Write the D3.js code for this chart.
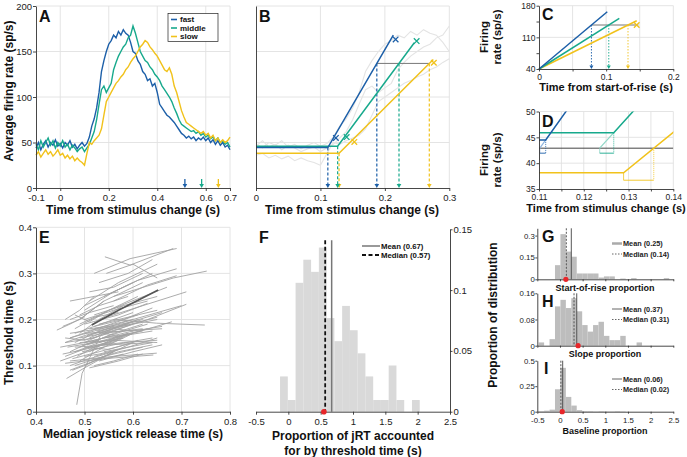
<!DOCTYPE html>
<html><head><meta charset="utf-8">
<script src="https://cdn.jsdelivr.net/npm/d3@7"></script>
<style>body{margin:0;background:#fff} svg{display:block}</style>
</head><body><svg id="c" width="687" height="457"></svg>
<script>
// ---------------- DATA ----------------
const conditions = ["fast", "middle", "slow"];
const condColors = ["#1c5fa8", "#17a98c", "#f1c21b"];
const condLight = ["#8fb6e0", "#8fd6c6", "#f6de86"];

// Panel A: average firing rate (sp/s), sampled every 0.01 s from -0.1 s
const rateT0 = -0.1, rateDt = 0.01;
const rateFast = [44,50,42,48,52,45,50,47,53,46,49,44,50,47,52,45,48,43,47,50,46,49,56,68,76,88,105,128,140,150,158,162,168,165,172,168,174,170,168,160,150,148,140,136,128,125,118,120,112,115,105,92,88,84,80,78,75,72,68,64,60,58,55,57,54,56,52,55,53,56,52,55,50,53,48,52,47,50,45,47,42];
const rateMiddle = [48,42,52,45,50,55,47,52,44,50,46,52,45,48,42,47,44,40,43,45,40,44,48,55,62,75,92,108,112,105,110,115,130,138,145,150,155,158,165,168,178,170,160,150,145,140,138,133,130,125,122,118,112,108,104,100,95,88,82,75,70,68,66,64,62,63,60,62,58,60,56,58,54,56,52,55,50,52,48,50,45];
const rateSlow = [36,40,34,38,42,37,40,35,38,42,36,38,33,36,32,35,30,33,30,28,25,38,50,48,52,55,58,65,80,95,100,105,110,115,118,122,125,130,133,138,142,145,150,155,158,162,160,155,152,148,145,140,135,130,128,132,125,112,105,95,85,78,72,70,68,66,64,62,60,62,58,60,55,58,52,55,50,53,50,52,56];
const medianRT = [0.514, 0.583, 0.652];

// Panel B / D: piecewise-linear fits
const fitBase = [44.5, 45.9, 38.15];
const fitKnee = [0.1115, 0.1267, 0.1289];
const fitEndT = [0.2131, 0.2457, 0.2752];
const fitEndRate = [168, 159.6, 141.3];
const fitThreshold = 136.9;
const markLowT = [0.124, 0.1407, 0.1526], markLowRate = [55, 56, 50.6];
const markHighT = [0.2167, 0.2493, 0.276], markHighRate = [163.3, 161.5, 137.6];

// Panel C: fits aligned at start-of-rise
const cEndT = [0.1017, 0.1196, 0.1455];
const cEndRate = [166.7, 152, 146.8];
const cThreshold = 137.3;
const cMarkT = 0.1455, cMarkRate = 137.3;

// Panel D
const dBaselineLevel = 42.9;

// Panel E: per-neuron median RTs (fast, middle, slow) and threshold times
const neuronRT = [
[0.443,0.470,0.500],[0.484,0.495,0.532],[0.463,0.500,0.560],[0.542,0.594,0.683],[0.520,0.594,0.690],
[0.560,0.649,0.748],[0.560,0.683,0.752],[0.540,0.628,0.710],[0.470,0.560,0.649],[0.460,0.540,0.642],
[0.450,0.500,0.560],[0.470,0.520,0.600],[0.480,0.540,0.610],[0.490,0.540,0.620],[0.500,0.560,0.640],
[0.510,0.570,0.650],[0.470,0.510,0.560],[0.455,0.490,0.540],[0.460,0.510,0.580],[0.480,0.530,0.600],
[0.490,0.550,0.630],[0.500,0.560,0.650],[0.510,0.580,0.660],[0.520,0.590,0.650],[0.480,0.540,0.620],
[0.470,0.520,0.580],[0.510,0.570,0.640],[0.490,0.560,0.650],[0.500,0.580,0.660],[0.520,0.600,0.700],
[0.530,0.620,0.710],[0.540,0.610,0.690],[0.510,0.560,0.620],[0.500,0.540,0.600],[0.520,0.580,0.650],
[0.530,0.590,0.650],[0.460,0.500,0.550],[0.470,0.530,0.590],[0.490,0.540,0.600],[0.500,0.550,0.610],
[0.480,0.550,0.640],[0.510,0.560,0.630],[0.520,0.600,0.680],[0.540,0.600,0.660],[0.550,0.600,0.650],
[0.500,0.570,0.630],[0.470,0.520,0.570],[0.460,0.490,0.520],[0.490,0.530,0.580],[0.530,0.580,0.640],
[0.500,0.530,0.570],[0.510,0.550,0.600],[0.480,0.520,0.560],[0.540,0.590,0.640],[0.520,0.560,0.610],
[0.470,0.500,0.530],[0.490,0.520,0.570],[0.550,0.610,0.670],[0.560,0.630,0.690],[0.530,0.590,0.640],
[0.500,0.540,0.580],[0.480,0.510,0.550],[0.530,0.560,0.600],[0.460,0.520,0.600],[0.510,0.550,0.590],
[0.500,0.550,0.600],[0.540,0.580,0.650],[0.545,0.600,0.650],
[0.450,0.490,0.540],[0.455,0.500,0.560],[0.465,0.520,0.580],[0.470,0.510,0.560],[0.475,0.530,0.600],
[0.485,0.520,0.570],[0.490,0.540,0.620],[0.495,0.560,0.640],[0.505,0.540,0.590],[0.505,0.560,0.610],
[0.515,0.560,0.620],[0.525,0.570,0.620],[0.460,0.500,0.550],[0.470,0.540,0.610],[0.480,0.520,0.600],
[0.530,0.600,0.660],[0.520,0.580,0.640],[0.500,0.560,0.630],[0.490,0.530,0.590],[0.475,0.500,0.540],
[0.510,0.570,0.620],[0.540,0.570,0.620]];
const neuronThr = [
[0.177,0.190,0.206],[0.015,0.083,0.163],[0.072,0.095,0.130],[0.336,0.318,0.354],[0.300,0.332,0.354],
[0.200,0.192,0.188],[0.250,0.290,0.305],[0.170,0.199,0.233],[0.110,0.120,0.127],[0.105,0.115,0.123],
[0.140,0.150,0.165],[0.160,0.175,0.200],[0.180,0.215,0.250],[0.200,0.240,0.280],[0.220,0.260,0.300],
[0.240,0.280,0.320],[0.200,0.215,0.230],[0.185,0.200,0.240],[0.120,0.140,0.160],[0.130,0.150,0.170],
[0.140,0.165,0.190],[0.150,0.180,0.205],[0.160,0.190,0.215],[0.120,0.140,0.160],[0.100,0.120,0.140],
[0.090,0.110,0.125],[0.110,0.130,0.145],[0.150,0.155,0.150],[0.170,0.175,0.180],[0.180,0.200,0.230],
[0.200,0.230,0.260],[0.250,0.285,0.310],[0.260,0.270,0.300],[0.230,0.250,0.280],[0.210,0.230,0.250],
[0.190,0.205,0.220],[0.160,0.155,0.170],[0.170,0.180,0.190],[0.110,0.140,0.170],[0.100,0.125,0.155],
[0.140,0.145,0.150],[0.130,0.160,0.180],[0.140,0.170,0.195],[0.160,0.175,0.185],[0.180,0.190,0.200],
[0.190,0.210,0.235],[0.240,0.250,0.260],[0.200,0.220,0.250],[0.170,0.200,0.230],[0.150,0.165,0.175],
[0.120,0.125,0.135],[0.180,0.185,0.195],[0.150,0.170,0.185],[0.130,0.140,0.150],[0.100,0.110,0.125],
[0.130,0.145,0.155],[0.190,0.205,0.215],[0.220,0.245,0.270],[0.240,0.275,0.295],[0.280,0.300,0.330],
[0.150,0.160,0.165],[0.210,0.195,0.220],[0.170,0.180,0.175],[0.150,0.160,0.190],[0.140,0.150,0.170],
[0.140,0.135,0.150],[0.145,0.150,0.155],[0.300,0.320,0.290],
[0.110,0.125,0.140],[0.125,0.135,0.150],[0.140,0.150,0.160],[0.100,0.115,0.130],[0.115,0.130,0.150],
[0.120,0.140,0.155],[0.160,0.170,0.180],[0.130,0.145,0.160],[0.145,0.155,0.170],[0.165,0.180,0.200],
[0.150,0.170,0.190],[0.175,0.185,0.200],[0.150,0.165,0.180],[0.160,0.185,0.210],[0.170,0.185,0.215],
[0.110,0.130,0.145],[0.185,0.200,0.225],[0.200,0.220,0.240],[0.210,0.230,0.250],[0.090,0.100,0.120],
[0.095,0.110,0.125],[0.170,0.165,0.175]];
const meanRT = [0.515, 0.570, 0.652], meanThr = [0.188, 0.220, 0.264];

// Panel F histogram
const fBinStart = -0.128, fBinWidth = 0.12;
const fValues = [0.029,0.0096,0.106,0.125,0.115,0.135,0.077,0.058,0.087,0.067,0.048,0.029,0.0096,0.0096,0.038,0.0096,0,0.0096];
const fMean = 0.67, fMedian = 0.57, fDot = 0.55;

// Panels G, H, I histograms (bins from -0.47, width 0.12)
const ghiBinStart = -0.47, ghiBinWidth = 0.12;
const gValues = [0,0,0,0.097,0.31,0.19,0.155,0.04,0.04,0.04,0.04,0.012,0.02,0.02,0,0.005,0,0.008,0,0,0,0,0,0.008,0];
const hValues = [0.01,0,0.02,0.12,0.14,0.115,0.145,0.105,0.063,0.043,0.063,0.073,0.03,0.017,0.017,0.03,0,0,0.01,0,0,0,0,0,0];
const iValues = [0.005,0.01,0.02,0.22,0.43,0.145,0.06,0.015,0.005,0.005,0.003,0.005,0.003,0.003,0.005,0.003,0,0,0,0,0,0,0,0,0];
const ghiMean = [0.25, 0.37, 0.06], ghiMedian = [0.14, 0.31, 0.02], ghiDot = [0.13, 0.40, 0.05];
const ghiTitles = ["Start-of-rise proportion", "Slope proportion", "Baseline proportion"];
const ghiYTicks = [[0, 0.15, 0.3], [0, 0.08, 0.16], [0, 0.25, 0.5]];

// ---------------- HELPERS ----------------
const FONT = '"Liberation Sans", Arial, Helvetica, sans-serif';
const svg = d3.select("#c");
const fmt = d => String(d);

function txt(g, x, y, s, size, o = {}) {
  const t = g.append("text").attr("x", x).attr("y", y).text(s)
    .attr("font-size", size).attr("font-family", FONT)
    .attr("font-weight", o.bold ? "bold" : "normal")
    .attr("text-anchor", o.anchor || "start").attr("fill", o.fill || "#111");
  if (o.rotate) t.attr("transform", `rotate(-90,${x},${y})`);
  return t;
}
function drawAxis(g, axis, size) {
  g.call(axis);
  g.select(".domain").attr("stroke", "#333").attr("stroke-width", 0.9);
  g.selectAll(".tick line").attr("stroke", "#333").attr("stroke-width", 0.9);
  g.selectAll(".tick text").attr("font-size", size).attr("font-family", FONT).attr("fill", "#222");
}
function grid(g, x, y, xs, ys) {
  xs.forEach(v => g.append("line").attr("x1", x(v)).attr("x2", x(v))
    .attr("y1", y.range()[0]).attr("y2", y.range()[1]).attr("stroke", "#e1e1e1").attr("stroke-width", 0.9));
  ys.forEach(v => g.append("line").attr("y1", y(v)).attr("y2", y(v))
    .attr("x1", x.range()[0]).attr("x2", x.range()[1]).attr("stroke", "#e1e1e1").attr("stroke-width", 0.9));
}
function downArrow(g, x, yTip, color, w = 2.3, h = 4) {
  g.append("path").attr("d", `M${x - w},${yTip - h}L${x + w},${yTip - h}L${x},${yTip}Z`).attr("fill", color);
}
function xMark(g, x, y, color, s = 2.8) {
  g.append("path").attr("d", `M${x - s},${y - s}L${x + s},${y + s}M${x - s},${y + s}L${x + s},${y - s}`)
    .attr("stroke", color).attr("stroke-width", 1.3);
}
function letter(g, x, y, s) { txt(g, x, y, s, 16, { bold: true }); }

// ---------------- PANEL A ----------------
const gA = svg.append("g");
const xA = d3.scaleLinear().domain([-0.1, 0.7]).range([36, 230]);
const yA = d3.scaleLinear().domain([0, 200]).range([188, 6]);
grid(gA, xA, yA, [0, 0.2, 0.4, 0.6, 0.7], [50, 100, 150, 200]);
const lineA = d3.line().x((d, i) => xA(rateT0 + i * rateDt)).y(d => yA(d));
[rateFast, rateMiddle, rateSlow].forEach((arr, k) => {
  gA.append("path").attr("d", lineA(arr)).attr("fill", "none").attr("stroke", condColors[k]).attr("stroke-width", 1.4);
});
medianRT.forEach((v, k) => {
  gA.append("line").attr("x1", xA(v)).attr("x2", xA(v)).attr("y1", yA(0) - 9).attr("y2", yA(0) - 3)
    .attr("stroke", condColors[k]).attr("stroke-width", 1.3);
  downArrow(gA, xA(v), yA(0), condColors[k]);
});
drawAxis(gA.append("g").attr("transform", `translate(0,${yA(0)})`),
  d3.axisBottom(xA).tickValues([-0.1, 0, 0.2, 0.4, 0.6, 0.7]).tickFormat(fmt).tickSize(3).tickPadding(3).tickSizeOuter(0), 9.5);
drawAxis(gA.append("g").attr("transform", `translate(${xA(-0.1)},0)`),
  d3.axisLeft(yA).tickValues([0, 50, 100, 150, 200]).tickFormat(fmt).tickSize(3).tickPadding(1).tickSizeOuter(0), 9.5);
const lg = gA.append("g");
lg.append("rect").attr("x", 168).attr("y", 13.5).attr("width", 50).attr("height", 28).attr("fill", "#fff").attr("stroke", "#222").attr("stroke-width", 0.7);
conditions.forEach((c, k) => {
  const yy = 19.5 + k * 8.5;
  lg.append("line").attr("x1", 171).attr("x2", 177).attr("y1", yy).attr("y2", yy).attr("stroke", condColors[k]).attr("stroke-width", 1.6);
  txt(lg, 180, yy + 2.8, c, 8, { bold: true });
});
letter(gA, 39, 22, "A");
txt(gA, 13, 91, "Average firing rate (sp/s)", 12, { bold: true, anchor: "middle", rotate: true });
txt(gA, 133, 213.5, "Time from stimulus change (s)", 12, { bold: true, anchor: "middle" });

// ---------------- PANEL B ----------------
const gB = svg.append("g");
const xB = d3.scaleLinear().domain([0, 0.3]).range([256, 449.3]);
const yB = d3.scaleLinear().domain([0, 200]).range([188, 6]);
grid(gB, xB, yB, [0.1, 0.2, 0.3], [50, 100, 150, 200]);
const lineB = d3.line().defined((d, i) => rateT0 + i * rateDt >= -1e-9 && rateT0 + i * rateDt <= 0.3 + 1e-9)
  .x((d, i) => xB(rateT0 + i * rateDt)).y(d => yB(d));
[rateFast, rateMiddle, rateSlow].forEach(arr => {
  gB.append("path").attr("d", lineB(arr)).attr("fill", "none").attr("stroke", "#e4e4e4").attr("stroke-width", 1.1);
});
const crossB = conditions.map((c, k) => fitKnee[k] + (fitThreshold - fitBase[k]) * (fitEndT[k] - fitKnee[k]) / (fitEndRate[k] - fitBase[k]));
[2, 1, 0].forEach(k => {
  gB.append("line").attr("x1", xB(fitKnee[k])).attr("x2", xB(fitKnee[k])).attr("y1", yB(fitBase[k])).attr("y2", yB(0) - 3)
    .attr("stroke", condColors[k]).attr("stroke-width", 1.2).attr("stroke-dasharray", "3,2");
  downArrow(gB, xB(fitKnee[k]), yB(0), condColors[k]);
  gB.append("line").attr("x1", xB(crossB[k])).attr("x2", xB(crossB[k])).attr("y1", yB(fitThreshold)).attr("y2", yB(0) - 3)
    .attr("stroke", condColors[k]).attr("stroke-width", 1.2).attr("stroke-dasharray", "3,2");
  downArrow(gB, xB(crossB[k]), yB(0), condColors[k]);
});
gB.append("line").attr("x1", xB(crossB[0])).attr("x2", xB(crossB[2])).attr("y1", yB(fitThreshold)).attr("y2", yB(fitThreshold))
  .attr("stroke", "#777").attr("stroke-width", 1);
[2, 1, 0].forEach(k => {
  const pts = [[0, fitBase[k]], [fitKnee[k], fitBase[k]], [fitEndT[k], fitEndRate[k]]];
  gB.append("path").attr("d", d3.line().x(d => xB(d[0])).y(d => yB(d[1]))(pts))
    .attr("fill", "none").attr("stroke", condColors[k]).attr("stroke-width", 1.5);
  xMark(gB, xB(markLowT[k]), yB(markLowRate[k]), condColors[k]);
  xMark(gB, xB(markHighT[k]), yB(markHighRate[k]), condColors[k]);
});
drawAxis(gB.append("g").attr("transform", `translate(0,${yB(0)})`),
  d3.axisBottom(xB).tickValues([0, 0.1, 0.2, 0.3]).tickFormat(fmt).tickSize(3).tickPadding(3).tickSizeOuter(0), 9.5);
drawAxis(gB.append("g").attr("transform", `translate(${xB(0)},0)`),
  d3.axisLeft(yB).tickValues([]).tickSizeOuter(0), 9.5);
letter(gB, 259, 22, "B");
txt(gB, 352, 213.5, "Time from stimulus change (s)", 12, { bold: true, anchor: "middle" });

// ---------------- PANEL C ----------------
const gC = svg.append("g");
const xC = d3.scaleLinear().domain([0, 0.2]).range([539, 673.3]);
const yC = d3.scaleLinear().domain([40, 180]).range([69, 5.7]);
grid(gC, xC, yC, [0.05, 0.1, 0.15, 0.2], [110, 180]);
const crossC = conditions.map((c, k) => (cThreshold - 40) * cEndT[k] / (cEndRate[k] - 40));
gC.append("line").attr("x1", xC(crossC[0])).attr("x2", xC(0.148)).attr("y1", yC(cThreshold)).attr("y2", yC(cThreshold))
  .attr("stroke", "#777").attr("stroke-width", 1);
conditions.forEach((c, k) => {
  gC.append("line").attr("x1", xC(crossC[k])).attr("x2", xC(crossC[k])).attr("y1", yC(cThreshold)).attr("y2", yC(40) - 3)
    .attr("stroke", condColors[k]).attr("stroke-width", 0.9).attr("stroke-dasharray", "1.5,1.5");
  downArrow(gC, xC(crossC[k]), yC(40), condColors[k], 2, 3.5);
});
[2, 1, 0].forEach(k => {
  gC.append("line").attr("x1", xC(0)).attr("y1", yC(40)).attr("x2", xC(cEndT[k])).attr("y2", yC(cEndRate[k]))
    .attr("stroke", condColors[k]).attr("stroke-width", 1.5);
});
xMark(gC, xC(cMarkT), yC(cMarkRate), condColors[2]);
drawAxis(gC.append("g").attr("transform", `translate(0,${yC(40)})`),
  d3.axisBottom(xC).tickValues([0, 0.05, 0.1, 0.15, 0.2]).tickFormat(d => (d === 0.05 || d === 0.15) ? "" : fmt(d)).tickSize(2.5).tickPadding(2.5).tickSizeOuter(0), 8.5);
drawAxis(gC.append("g").attr("transform", `translate(${xC(0)},0)`),
  d3.axisLeft(yC).tickValues([40, 75, 110, 145, 180]).tickFormat(d => (d === 75 || d === 145) ? "" : fmt(d)).tickSize(2.5).tickPadding(1).tickSizeOuter(0), 8.5);
letter(gC, 542, 20, "C");
txt(gC, 606, 91, "Time from start-of-rise (s)", 11, { bold: true, anchor: "middle" });
txt(gC, 488, 37, "Firing", 11.5, { bold: true, anchor: "middle", rotate: true });
txt(gC, 501, 37, "rate (sp/s)", 11.5, { bold: true, anchor: "middle", rotate: true });

// ---------------- PANEL D ----------------
const gD = svg.append("g");
const xD = d3.scaleLinear().domain([0.11, 0.14]).range([539, 673.3]);
const yD = d3.scaleLinear().domain([35, 50]).range([189, 111.5]);
grid(gD, xD, yD, [0.115, 0.12, 0.125, 0.13, 0.135, 0.14], [40, 45, 50]);
svg.append("defs").append("clipPath").attr("id", "clipD").append("rect")
  .attr("x", 539).attr("y", 111.5).attr("width", 134.3).attr("height", 77.5);
const gDc = gD.append("g").attr("clip-path", "url(#clipD)");
gDc.append("line").attr("x1", xD(0.11)).attr("x2", xD(0.14)).attr("y1", yD(dBaselineLevel)).attr("y2", yD(dBaselineLevel))
  .attr("stroke", "#444").attr("stroke-width", 1);
const slopeD = conditions.map((c, k) => (fitEndRate[k] - fitBase[k]) / (fitEndT[k] - fitKnee[k]));
[0, 1].forEach(k => {
  const t0 = fitKnee[k] - (fitBase[k] - dBaselineLevel) / slopeD[k];
  const yb = yD(dBaselineLevel) + 5;
  gDc.append("line").attr("x1", xD(t0)).attr("y1", yD(dBaselineLevel)).attr("x2", xD(fitKnee[k])).attr("y2", yD(fitBase[k]))
    .attr("stroke", condLight[k]).attr("stroke-width", 1.2);
  gDc.append("line").attr("x1", xD(t0)).attr("x2", xD(t0)).attr("y1", yD(dBaselineLevel)).attr("y2", yb)
    .attr("stroke", condLight[k]).attr("stroke-width", 0.8);
  gDc.append("line").attr("x1", xD(fitKnee[k])).attr("x2", xD(fitKnee[k])).attr("y1", yD(fitBase[k])).attr("y2", yb)
    .attr("stroke", condColors[k]).attr("stroke-width", 0.8).attr("stroke-dasharray", "1,1");
  gDc.append("line").attr("x1", xD(t0)).attr("x2", xD(fitKnee[k])).attr("y1", yb).attr("y2", yb)
    .attr("stroke", condColors[k]).attr("stroke-width", 0.9);
});
{
  const k = 2;
  const t1 = fitKnee[k] + (dBaselineLevel - fitBase[k]) / slopeD[k];
  const yb = yD(36.7);
  gDc.append("line").attr("x1", xD(t1)).attr("x2", xD(t1)).attr("y1", yD(dBaselineLevel)).attr("y2", yb)
    .attr("stroke", condColors[k]).attr("stroke-width", 0.8).attr("stroke-dasharray", "1,1");
  gDc.append("line").attr("x1", xD(fitKnee[k])).attr("x2", xD(fitKnee[k])).attr("y1", yD(fitBase[k])).attr("y2", yb)
    .attr("stroke", condColors[k]).attr("stroke-width", 0.8);
  gDc.append("line").attr("x1", xD(fitKnee[k])).attr("x2", xD(t1)).attr("y1", yb).attr("y2", yb)
    .attr("stroke", condColors[k]).attr("stroke-width", 0.9);
}
[2, 1, 0].forEach(k => {
  const pts = [[0.11, fitBase[k]], [fitKnee[k], fitBase[k]], [fitEndT[k], fitEndRate[k]]];
  gDc.append("path").attr("d", d3.line().x(d => xD(d[0])).y(d => yD(d[1]))(pts))
    .attr("fill", "none").attr("stroke", condColors[k]).attr("stroke-width", 1.5);
});
drawAxis(gD.append("g").attr("transform", `translate(0,${yD(35)})`),
  d3.axisBottom(xD).tickValues([0.11, 0.115, 0.12, 0.125, 0.13, 0.135, 0.14]).tickFormat(d => [0.11, 0.12, 0.13, 0.14].includes(d) ? fmt(d) : "").tickSize(2.5).tickPadding(2.5).tickSizeOuter(0), 8.5);
drawAxis(gD.append("g").attr("transform", `translate(${xD(0.11)},0)`),
  d3.axisLeft(yD).tickValues([35, 40, 45, 50]).tickFormat(fmt).tickSize(2.5).tickPadding(1).tickSizeOuter(0), 8.5);
letter(gD, 542, 127, "D");
txt(gD, 606, 211.5, "Time from stimulus change (s)", 11, { bold: true, anchor: "middle" });
txt(gD, 488, 160, "Firing", 11.5, { bold: true, anchor: "middle", rotate: true });
txt(gD, 501, 160, "rate (sp/s)", 11.5, { bold: true, anchor: "middle", rotate: true });

// ---------------- PANEL E ----------------
const gE = svg.append("g");
const xE = d3.scaleLinear().domain([0.4, 0.8]).range([36, 230]);
const yE = d3.scaleLinear().domain([0, 0.4]).range([411.7, 227.3]);
grid(gE, xE, yE, [0.5, 0.6, 0.7, 0.8], [0.1, 0.2, 0.3, 0.4]);
const lineE = d3.line().x(d => xE(d[0])).y(d => yE(d[1]));
neuronRT.forEach((rt, i) => {
  gE.append("path").attr("d", lineE(rt.map((r, j) => [r, neuronThr[i][j]])))
    .attr("fill", "none").attr("stroke", "#a3a3a3").attr("stroke-width", 0.9);
});
gE.append("path").attr("d", lineE(meanRT.map((r, j) => [r, meanThr[j]])))
  .attr("fill", "none").attr("stroke", "#555").attr("stroke-width", 1.6);
drawAxis(gE.append("g").attr("transform", `translate(0,${yE(0)})`),
  d3.axisBottom(xE).tickValues([0.4, 0.5, 0.6, 0.7, 0.8]).tickFormat(fmt).tickSize(3).tickPadding(3.5).tickSizeOuter(0), 9.5);
drawAxis(gE.append("g").attr("transform", `translate(${xE(0.4)},0)`),
  d3.axisLeft(yE).tickValues([0, 0.1, 0.2, 0.3, 0.4]).tickFormat(fmt).tickSize(3).tickPadding(1).tickSizeOuter(0), 9.5);
letter(gE, 39, 243, "E");
txt(gE, 13, 333, "Threshold time (s)", 12, { bold: true, anchor: "middle", rotate: true });
txt(gE, 133, 438, "Median joystick release time (s)", 12, { bold: true, anchor: "middle" });

// ---------------- PANEL F ----------------
const gF = svg.append("g");
const xF = d3.scaleLinear().domain([-0.5, 2.5]).range([256, 450]);
const yF = d3.scaleLinear().domain([0, 0.15]).range([411.7, 229.3]);
fValues.forEach((v, i) => {
  const x0 = fBinStart + i * fBinWidth;
  if (v > 0) gF.append("rect").attr("x", xF(x0)).attr("width", xF(x0 + fBinWidth) - xF(x0))
    .attr("y", yF(v)).attr("height", yF(0) - yF(v)).attr("fill", "#d9d9d9");
});
gF.append("line").attr("x1", xF(fMean)).attr("x2", xF(fMean)).attr("y1", yF(0.141)).attr("y2", yF(0))
  .attr("stroke", "#777").attr("stroke-width", 1.5);
gF.append("line").attr("x1", xF(fMedian)).attr("x2", xF(fMedian)).attr("y1", yF(0.141)).attr("y2", yF(0))
  .attr("stroke", "#111").attr("stroke-width", 1.8).attr("stroke-dasharray", "4,2.5");
drawAxis(gF.append("g").attr("transform", `translate(0,${yF(0)})`),
  d3.axisBottom(xF).tickValues([-0.5, 0, 0.5, 1, 1.5, 2, 2.5]).tickFormat(fmt).tickSize(3).tickPadding(3.5).tickSizeOuter(0), 9.5);
drawAxis(gF.append("g").attr("transform", `translate(${xF(2.5)},0)`),
  d3.axisRight(yF).tickValues([0, 0.05, 0.1, 0.15]).tickFormat(fmt).tickSize(2.5).tickPadding(1).tickSizeOuter(0), 9.5);
gF.append("circle").attr("cx", xF(fDot)).attr("cy", yF(0)).attr("r", 2.8).attr("fill", "#e8262a");
gF.append("line").attr("x1", 362).attr("x2", 380).attr("y1", 246).attr("y2", 246).attr("stroke", "#777").attr("stroke-width", 1.5);
gF.append("line").attr("x1", 362).attr("x2", 380).attr("y1", 255).attr("y2", 255).attr("stroke", "#111").attr("stroke-width", 1.8).attr("stroke-dasharray", "4,2.5");
txt(gF, 381, 249, "Mean (0.67)", 7.8, { bold: true });
txt(gF, 381, 258, "Median (0.57)", 7.8, { bold: true });
letter(gF, 259, 243, "F");
txt(gF, 353, 440, "Proportion of jRT accounted", 12, { bold: true, anchor: "middle" });
txt(gF, 353, 455, "for by threshold time (s)", 12, { bold: true, anchor: "middle" });

// ---------------- PANELS G, H, I ----------------
const xG = d3.scaleLinear().domain([-0.5, 2.5]).range([537.3, 673.3]);
const ghiY = [
  d3.scaleLinear().domain([0, 0.35]).range([279.3, 228.3]),
  d3.scaleLinear().domain([0, 0.16]).range([345.7, 293.3]),
  d3.scaleLinear().domain([0, 0.5]).range([411.7, 360.7])];
const ghiData = [gValues, hValues, iValues];
const ghiLetters = ["G", "H", "I"];
const ghiLetterPos = [[542, 241.5], [542, 307], [544, 374]];
const ghiTitleY = [291, 357, 434];
const ghiLegendY = [243.5, 309, 379];
const meanLabels = ["Mean (0.25)", "Mean (0.37)", "Mean (0.06)"];
const medLabels = ["Median (0.14)", "Median (0.31)", "Median (0.02)"];
ghiData.forEach((vals, p) => {
  const g = svg.append("g");
  const y = ghiY[p];
  vals.forEach((v, i) => {
    const x0 = ghiBinStart + i * ghiBinWidth;
    if (v > 0) g.append("rect").attr("x", xG(x0)).attr("width", xG(x0 + ghiBinWidth) - xG(x0))
      .attr("y", y(v)).attr("height", y(0) - y(v)).attr("fill", "#bdbdbd");
  });
  const top = y.range()[1];
  g.append("line").attr("x1", xG(ghiMean[p])).attr("x2", xG(ghiMean[p])).attr("y1", top).attr("y2", y(0))
    .attr("stroke", "#444").attr("stroke-width", 0.9);
  g.append("line").attr("x1", xG(ghiMedian[p])).attr("x2", xG(ghiMedian[p])).attr("y1", top).attr("y2", y(0))
    .attr("stroke", "#444").attr("stroke-width", 0.9).attr("stroke-dasharray", "2,1.5");
  drawAxis(g.append("g").attr("transform", `translate(0,${y(0)})`),
    d3.axisBottom(xG).tickValues([-0.5, 0, 0.5, 1, 1.5, 2, 2.5]).tickFormat(p === 2 ? fmt : () => "").tickSize(2).tickPadding(3.5).tickSizeOuter(0), 7.8);
  drawAxis(g.append("g").attr("transform", `translate(${xG(-0.5)},0)`),
    d3.axisLeft(y).tickValues(ghiYTicks[p]).tickFormat(fmt).tickSize(2).tickPadding(0.5).tickSizeOuter(0), 7.8);
  g.append("circle").attr("cx", xG(ghiDot[p])).attr("cy", y(0)).attr("r", 2.6).attr("fill", "#e8262a");
  letter(g, ghiLetterPos[p][0], ghiLetterPos[p][1], ghiLetters[p]);
  const ly = ghiLegendY[p];
  g.append("line").attr("x1", 612).attr("x2", 622).attr("y1", ly).attr("y2", ly)
    .attr("stroke", p === 0 ? "#aaa" : "#555").attr("stroke-width", p === 0 ? 2.5 : 0.9);
  g.append("line").attr("x1", 612).attr("x2", 622).attr("y1", ly + 10.5).attr("y2", ly + 10.5)
    .attr("stroke", "#555").attr("stroke-width", 0.9).attr("stroke-dasharray", "1.5,1.5");
  txt(g, 623, ly + 2.8, meanLabels[p], 7.3, { bold: true, fill: "#222" });
  txt(g, 623, ly + 13.3, medLabels[p], 7.3, { bold: true, fill: "#222" });
  txt(g, 605, ghiTitleY[p], ghiTitles[p], 9, { bold: true, anchor: "middle" });
});
txt(svg, 497, 315, "Proportion of distribution", 12, { bold: true, anchor: "middle", rotate: true });
</script></body></html>
